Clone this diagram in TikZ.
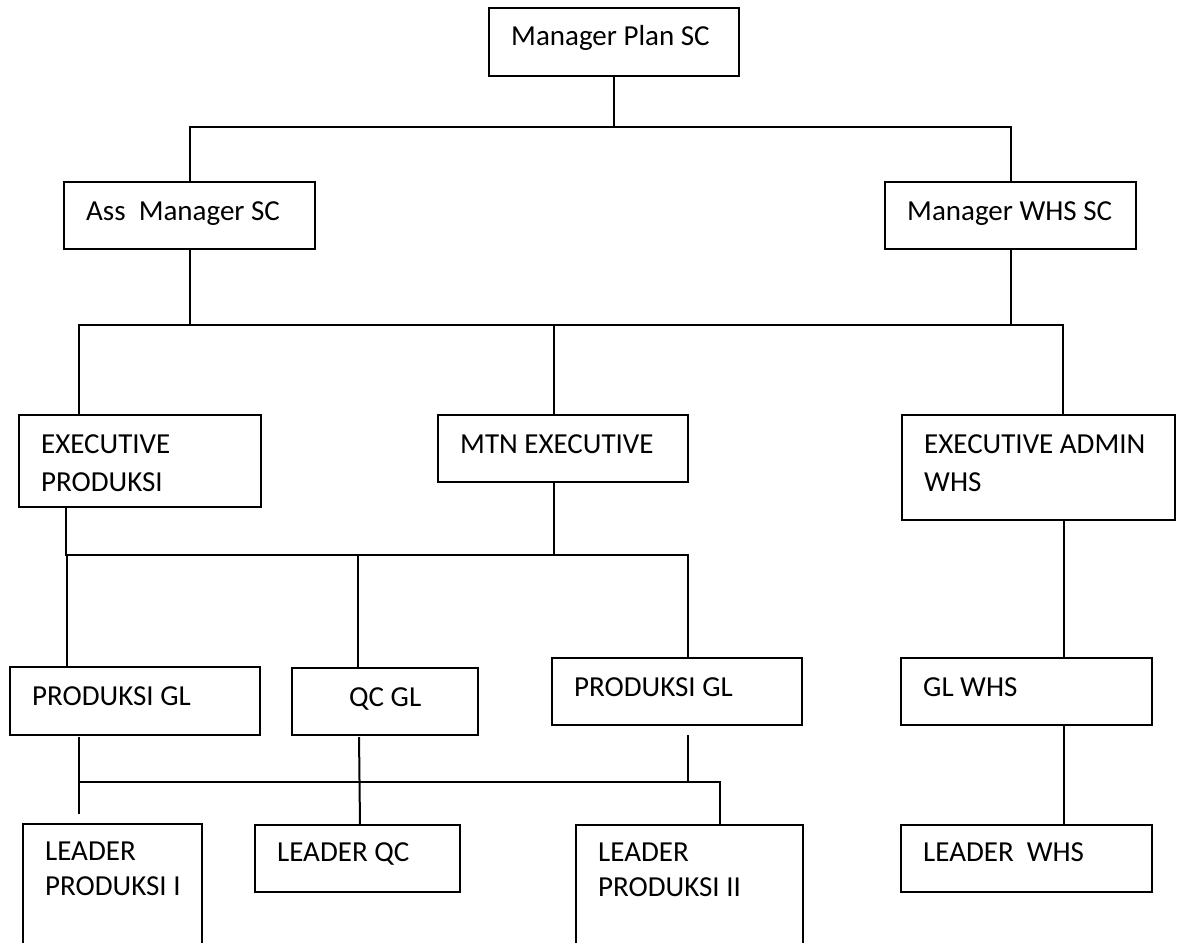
\documentclass[tikz,border=0pt]{standalone}
\usepackage{fontspec}
\setmainfont{Carlito}

\begin{document}
\begin{tikzpicture}[
    x=1pt, y=-1pt,
    box/.style={
        draw,
        line width=2.2pt,
        anchor=north west,
        inner sep=0pt,
        outer sep=0pt
    },
    caption/.style={
        anchor=base west,
        align=left,
        inner sep=0pt,
        label distance=0pt,
        font=\fontsize{29}{38}\selectfont,
        xshift=22pt,
        yshift=-38pt
    },
    twoline/.style={
        caption,
        yshift=-38pt
    },
    leader/.style={
        caption,
        yshift=2pt,
        font=\fontsize{29}{35}\selectfont
    },
    twoleader/.style={
        leader,
        yshift=-35pt
    },
    line/.style={
        line width=2pt
    }
]
\clip (0,0) rectangle (1177,942);

% Top
\node[box, minimum width=250pt, minimum height=68pt, label={[caption]north west:Manager Plan SC}] (plan) at (489,8) {};

% Managers
\node[box, minimum width=251pt, minimum height=67pt, label={[caption]north west:Ass\ \ Manager SC}] (ass) at (64,182) {};
\node[box, minimum width=251pt, minimum height=67pt, label={[caption]north west:Manager WHS SC}] (whs) at (885,182) {};

% Executives
\node[box, minimum width=242pt, minimum height=92pt, label={[twoline]north west:{EXECUTIVE\\PRODUKSI}}] (execprod) at (19,415) {};
\node[box, minimum width=250pt, minimum height=67pt, label={[caption]north west:MTN EXECUTIVE}] (mtn) at (438,415) {};
\node[box, minimum width=273pt, minimum height=105pt, label={[twoline]north west:{EXECUTIVE ADMIN\\WHS}}] (admin) at (902,415) {};

% Group leaders
\node[box, minimum width=250pt, minimum height=68pt, label={[caption]north west:PRODUKSI GL}] (prodgl) at (10,667) {};
\node[box, minimum width=186pt, minimum height=67pt, label={[caption, xshift=35pt]north west:QC GL}] (qcgl) at (292,668) {};
\node[box, minimum width=250pt, minimum height=67pt, label={[caption]north west:PRODUKSI GL}] (prodgl2) at (552,658) {};
\node[box, minimum width=251pt, minimum height=67pt, label={[caption]north west:GL WHS}] (glwhs) at (901,658) {};

% Leaders
\node[box, minimum width=179pt, minimum height=140pt, label={[twoleader]north west:{LEADER\\PRODUKSI I}}] (leadprod1) at (23,824) {};
\node[box, minimum width=205pt, minimum height=67pt, label={[leader]north west:LEADER QC}] (leadqc) at (255,825) {};
\node[box, minimum width=227pt, minimum height=140pt, label={[twoleader]north west:{LEADER\\PRODUKSI II}}] (leadprod2) at (576,825) {};
\node[box, minimum width=251pt, minimum height=67pt, label={[leader]north west:LEADER\ \ WHS}] (leadwhs) at (901,825) {};

% Top to managers
\draw[line] (plan.south) -- ++(0,51);
\draw[line] (ass.north) -- ++(0,-55) -| (whs.north);

% Managers to executives
\draw[line] (ass.south) -- ++(0,76);
\draw[line] (whs.south) -- ++(0,77);
\draw[line] ([xshift=60pt]execprod.north west) -- ++(0,-90) -| ([xshift=161pt]admin.north west);
\draw[line] ([xshift=116pt]mtn.north west) -- ++(0,-90);

% Executives to group leaders
\draw[line] ([xshift=47pt]execprod.south west) -- ++(0,48) -| ([xshift=136pt]prodgl2.north west);
\draw[line] ([xshift=116pt]mtn.south west) -- ++(0,73);
\draw[line] ([xshift=57pt]prodgl.north west) -- ++(0,-112);
\draw[line] ([xshift=66pt]qcgl.north west) -- ++(0,-113);
\draw[line] ([xshift=162pt]admin.south west) -- ([xshift=163pt]glwhs.north west);

% Group leaders to leaders
\draw[line, shorten <=2pt, shorten >=10pt] ([xshift=69pt]prodgl.south west) -- ([xshift=56pt]leadprod1.north west);
\draw[line] ([xshift=69pt]prodgl.south west) ++(0,47) -| ([xshift=144pt]leadprod2.north west);
\draw[line, shorten <=2pt] ([xshift=67pt]qcgl.south west) -- ([xshift=105pt]leadqc.north west);
\draw[line, shorten <=10pt] ([xshift=136pt]prodgl2.south west) -- ++(0,57);
\draw[line] ([xshift=163pt]glwhs.south west) -- ([xshift=163pt]leadwhs.north west);

\end{tikzpicture}
\end{document}
